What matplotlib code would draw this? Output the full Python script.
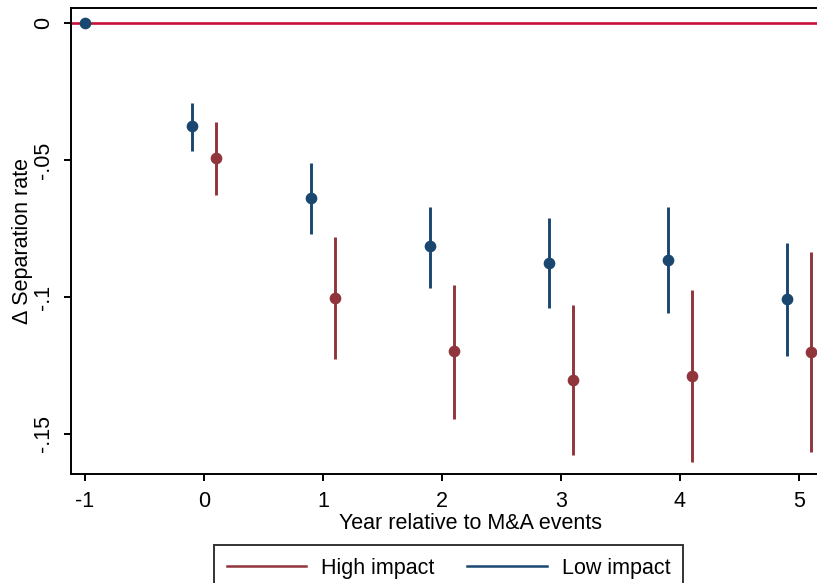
import matplotlib
matplotlib.use("Agg")
import matplotlib.pyplot as plt
from matplotlib.lines import Line2D

plt.rcParams['font.family'] = ['Liberation Sans', 'DejaVu Sans']

# Event-time estimates (year relative to M&A event)
years = [-1, 0, 1, 2, 3, 4, 5]

low_coef = [0.0, -0.0376, -0.0639, -0.0814, -0.0876, -0.0865, -0.1007]
low_hi = [0.0, -0.0292, -0.0511, -0.0672, -0.0712, -0.0672, -0.0803]
low_lo = [0.0, -0.0467, -0.0770, -0.0967, -0.1040, -0.1058, -0.1215]

high_years = [0, 1, 2, 3, 4, 5]
high_coef = [-0.0493, -0.1004, -0.1197, -0.1303, -0.1288, -0.1201]
high_hi = [-0.0361, -0.0781, -0.0956, -0.1029, -0.0974, -0.0836]
high_lo = [-0.0628, -0.1226, -0.1445, -0.1577, -0.1602, -0.1566]

y_ticks = [0, -0.05, -0.1, -0.15]
y_tick_labels = ["0", "-.05", "-.1", "-.15"]

BLUE = "#1a476f"
RED = "#90353b"
ZERO_LINE = "#c8103a"
FS = 15.5

W, H = 817, 583
fig = plt.figure(figsize=(W / 100, H / 100), dpi=100)

# axes geometry in pixels; the frame runs past the right edge of the canvas
left_px, top_px, bottom_px = 71, 8, 474
px_per_year = 119
x_left = -1 - (85 - left_px) / px_per_year
x_right = 5.6
width_px = (x_right - x_left) * px_per_year
ax = fig.add_axes([left_px / W, (H - bottom_px) / H, width_px / W, (bottom_px - top_px) / H])

ax.axhline(0, color=ZERO_LINE, lw=1.9, zorder=1)

# low impact: drawn just left of each year (reference year stays at -1)
low_x = [y if y == -1 else y - 0.1 for y in years]
for x, lo, hi in zip(low_x, low_lo, low_hi):
    if hi != lo:
        ax.plot([x, x], [lo, hi], color=BLUE, lw=2.1, solid_capstyle='butt', zorder=2)
ax.plot(low_x, low_coef, 'o', color=BLUE, ms=7.4, zorder=3)

high_x = [y + 0.1 for y in high_years]
for x, lo, hi in zip(high_x, high_lo, high_hi):
    ax.plot([x, x], [lo, hi], color=RED, lw=2.1, solid_capstyle='butt', zorder=2)
ax.plot(high_x, high_coef, 'o', color=RED, ms=7.4, zorder=3)

ax.set_xlim(x_left, x_right)
y_top = 0 + (23 - top_px) / 2740
y_bot = 0 - (bottom_px - 23) / 2740
ax.set_ylim(y_bot, y_top)

ax.set_xticks(years)
ax.set_xticklabels([str(y) for y in years])
ax.set_yticks(y_ticks)
ax.set_yticklabels(y_tick_labels, rotation=90, va='center')

for s in ax.spines.values():
    s.set_linewidth(1.4)
    s.set_color("black")

ax.tick_params(axis='both', direction='out', length=5, width=1.4, labelsize=FS, colors='black')
ax.tick_params(axis='x', pad=7)
ax.tick_params(axis='y', pad=7)

ax.set_xlabel("Year relative to M&A events", fontsize=FS, labelpad=1)
ax.set_ylabel("Δ Separation rate", fontsize=FS, labelpad=0)

handles = [Line2D([], [], color=RED, lw=1.8), Line2D([], [], color=BLUE, lw=1.8)]
leg = fig.legend(handles, ["High impact", "Low impact"], loc='upper center',
                 bbox_to_anchor=(448.5 / W, (H - 545) / H), ncol=2, fontsize=FS,
                 frameon=True, fancybox=False, edgecolor='black', handlelength=3.7,
                 handletextpad=0.7, columnspacing=1.5, borderpad=0.6, borderaxespad=0)
leg.get_frame().set_linewidth(1.4)

fig.savefig("out.png", dpi=100)
